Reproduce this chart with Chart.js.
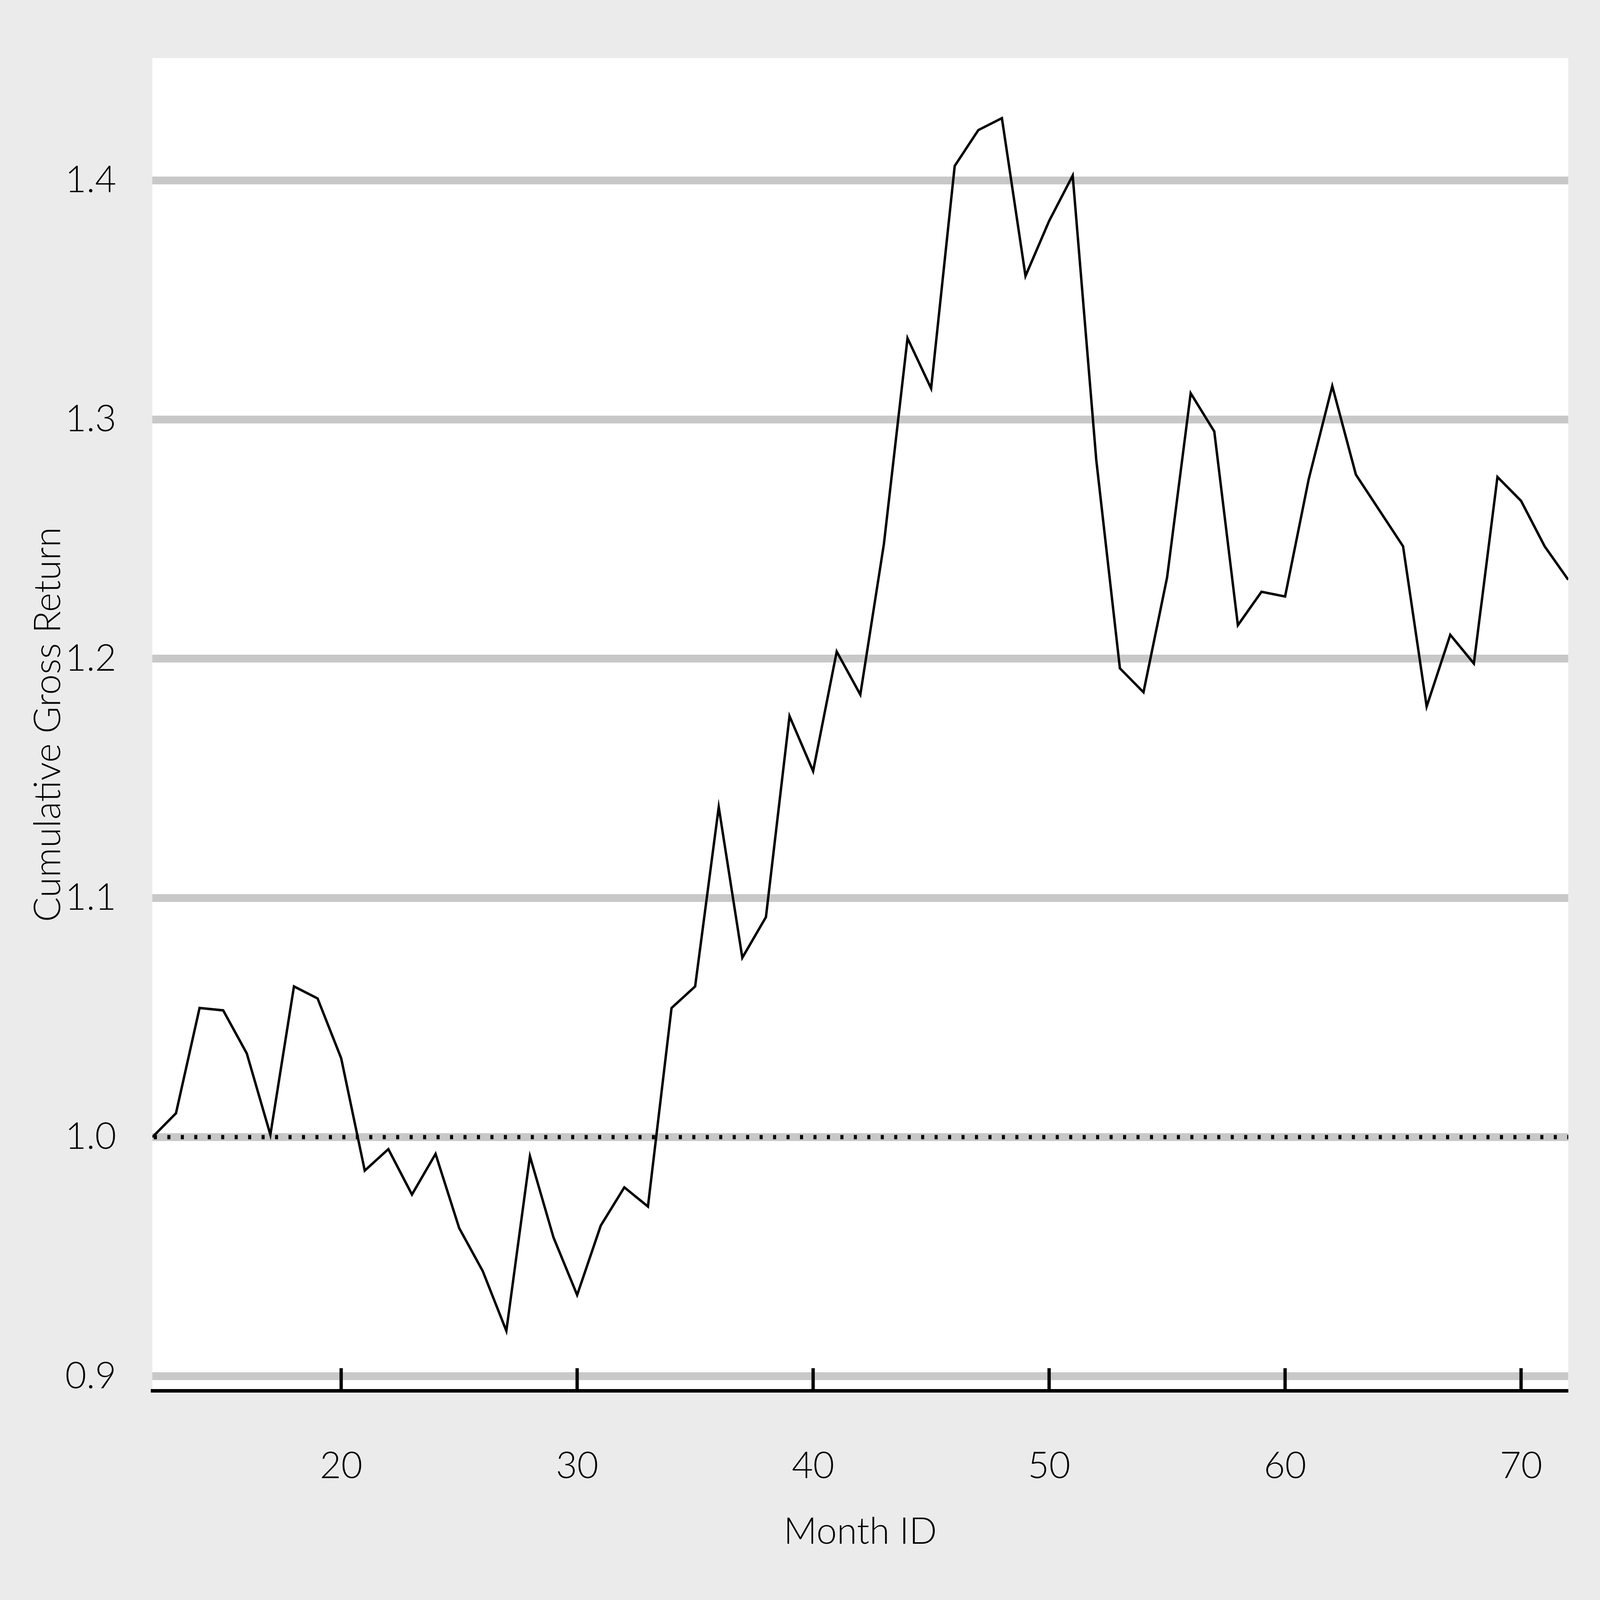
<!DOCTYPE html>
<html>
<head>
<meta charset="utf-8">
<script src="https://cdn.jsdelivr.net/npm/chart.js@4/dist/chart.umd.min.js"></script>
<style>
  html, body { margin: 0; padding: 0; background: #ebebeb; overflow: hidden; }
  canvas { display: block; }
</style>
</head>
<body>
<canvas id="return-chart"></canvas>
<script>
// Month IDs and cumulative gross return
const months = [12, 13, 14, 15, 16, 17, 18, 19, 20, 21, 22, 23, 24, 25, 26, 27, 28, 29, 30, 31,
    32, 33, 34, 35, 36, 37, 38, 39, 40, 41, 42, 43, 44, 45, 46, 47, 48, 49, 50, 51,
    52, 53, 54, 55, 56, 57, 58, 59, 60, 61, 62, 63, 64, 65, 66, 67, 68, 69, 70, 71, 72];
const grossReturn = [1.000, 1.010, 1.054, 1.053, 1.035, 1.001, 1.063, 1.058, 1.033, 0.986,
    0.995, 0.976, 0.993, 0.962, 0.944, 0.919, 0.992, 0.958, 0.934, 0.963,
    0.979, 0.971, 1.054, 1.063, 1.138, 1.075, 1.092, 1.176, 1.153, 1.203,
    1.185, 1.248, 1.334, 1.313, 1.406, 1.421, 1.426, 1.360, 1.383, 1.402,
    1.283, 1.196, 1.186, 1.234, 1.311, 1.295, 1.214, 1.228, 1.226, 1.275,
    1.314, 1.277, 1.262, 1.247, 1.180, 1.210, 1.198, 1.276, 1.266, 1.247, 1.233];
const xTicks = [20, 30, 40, 50, 60, 70];
const yTicks = [0.9, 1.0, 1.1, 1.2, 1.3, 1.4];
const baseline = 1.0;

// layout is measured on a 6300x4500 page and scaled to whatever viewport we get
const W = window.innerWidth;
const H = window.innerHeight;
const sx = W / 6300;
const sy = H / 4500;
const s = Math.min(sx, sy);

const FONT = 'Lato, "Open Sans", "Noto Sans", sans-serif';
const font = { family: FONT, size: Math.round(145 * s), weight: '300' };

// panel backgrounds, dotted break-even line, inward x ticks
const decorations = {
    id: 'decorations',
    beforeDraw(chart) {
        const { ctx, chartArea: a } = chart;
        ctx.save();
        ctx.fillStyle = '#ebebeb';
        ctx.fillRect(0, 0, chart.width, chart.height);
        ctx.fillStyle = '#ffffff';
        ctx.fillRect(a.left, a.top, a.right - a.left, a.bottom - a.top);
        ctx.restore();
    },
    beforeDatasetsDraw(chart) {
        const { ctx, chartArea: a, scales } = chart;
        const y = scales.y.getPixelForValue(baseline);
        ctx.save();
        ctx.strokeStyle = '#000000';
        ctx.lineWidth = 12 * sy;
        ctx.setLineDash([12 * sx, 41 * sx]);
        ctx.beginPath();
        ctx.moveTo(a.left + 6 * sx, y);
        ctx.lineTo(a.right, y);
        ctx.stroke();
        ctx.restore();
    },
    afterDraw(chart) {
        const { ctx, chartArea: a, scales } = chart;
        ctx.save();
        ctx.strokeStyle = '#000000';
        ctx.lineWidth = 13 * sx;
        xTicks.forEach(v => {
            const x = scales.x.getPixelForValue(v);
            ctx.beginPath();
            ctx.moveTo(x, a.bottom + 2 * sy);
            ctx.lineTo(x, a.bottom - 64 * sy);
            ctx.stroke();
        });
        ctx.restore();
    },
};

const canvas = document.getElementById('return-chart');
canvas.width = W;
canvas.height = H;
canvas.style.width = W + 'px';
canvas.style.height = H + 'px';

new Chart(canvas.getContext('2d'), {
    type: 'line',
    data: {
        datasets: [
            {
                data: months.map((m, i) => ({ x: m, y: grossReturn[i] })),
                borderColor: '#000000',
                borderWidth: 8 * (sx + sy) / 2,
                pointRadius: 0,
                tension: 0,
                fill: false,
            },
        ],
    },
    options: {
        responsive: false,
        animation: false,
        layout: { padding: { top: 149 * sy, right: 125 * sx, left: 0, bottom: 0 } },
        plugins: {
            legend: { display: false },
            tooltip: { enabled: false },
        },
        scales: {
            x: {
                type: 'linear',
                min: 12,
                max: 72,
                afterBuildTicks: sc => { sc.ticks = xTicks.map(v => ({ value: v })); },
                afterFit: sc => { sc.height = 588 * sy; },
                grid: { display: false, drawTicks: false },
                border: { display: true, color: '#000000', width: 10 * sy },
                ticks: {
                    padding: 150 * sy,
                    color: '#000000',
                    font: font,
                    callback: v => String(v),
                },
                title: {
                    display: true,
                    text: 'Month ID',
                    color: '#000000',
                    font: font,
                    padding: { top: 0, bottom: 130 * sy },
                },
            },
            y: {
                min: 0.8939,
                max: 1.4511,
                afterBuildTicks: sc => { sc.ticks = yTicks.map(v => ({ value: v })); },
                afterFit: sc => { sc.width = 600 * sx; },
                grid: { color: '#c8c8c8', lineWidth: 22 * sy, drawTicks: false },
                border: { display: false },
                ticks: {
                    padding: 142 * sx,
                    color: '#000000',
                    font: font,
                    callback: v => v.toFixed(1),
                },
                title: {
                    display: true,
                    text: 'Cumulative Gross Return',
                    color: '#000000',
                    font: font,
                    padding: { top: 104 * sx, bottom: 0 },
                },
            },
        },
    },
    plugins: [decorations],
});
</script>
</body>
</html>
